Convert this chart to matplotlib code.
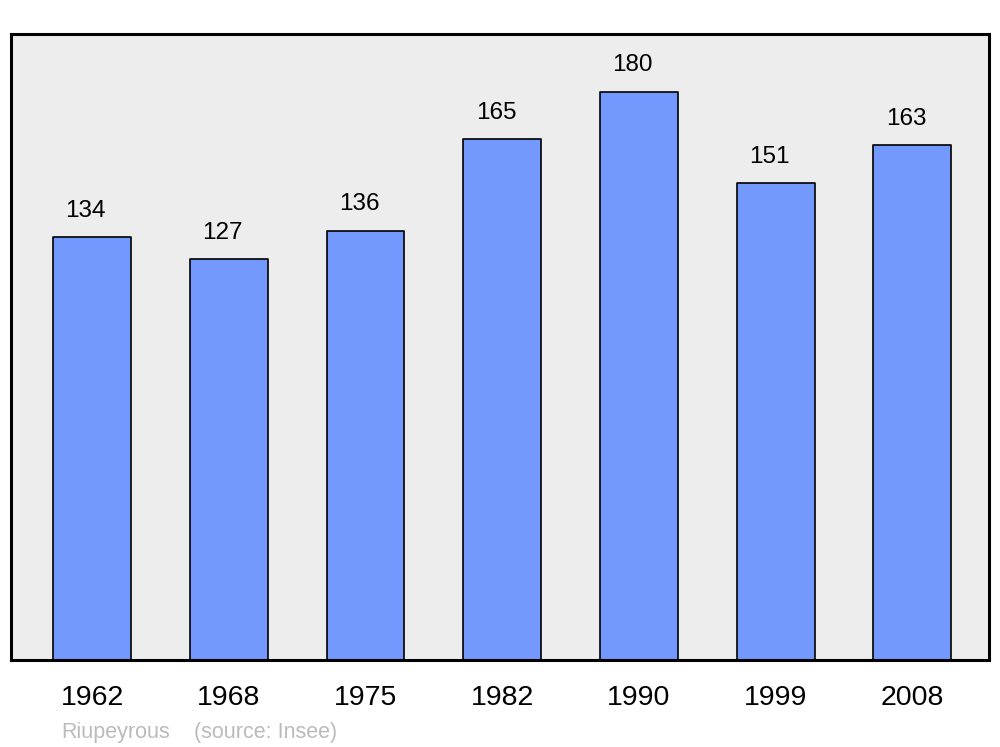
import matplotlib.pyplot as plt
import numpy as np

plt.rcParams['font.family'] = ['Liberation Sans', 'DejaVu Sans']

years = ['1962', '1968', '1975', '1982', '1990', '1999', '2008']
population = [134, 127, 136, 165, 180, 151, 163]

fig = plt.figure(figsize=(10, 7.47), dpi=100)
ax = fig.add_axes([0.011, 0.1165, 0.978, 0.838])
ax.set_facecolor('#ededed')

x = np.arange(len(years))
bars = ax.bar(x, population, width=0.57, color='#7399ff', edgecolor='black',
              linewidth=1.2, zorder=2)
for b in bars:
    b.set_joinstyle('round')

for xi, v in zip(x, population):
    ax.annotate(str(v), (xi, v), xytext=(-4.5, 19), textcoords='offset points',
                ha='center', va='center', fontsize=17.5)

ax.set_xlim(-0.593, 6.56)
ax.set_ylim(0, 198.3)
ax.set_xticks(x)
ax.set_xticklabels(years, fontsize=20.5)
ax.tick_params(axis='x', length=0, pad=18)
ax.set_yticks([])
for s in ax.spines.values():
    s.set_linewidth(2.2)
    s.set_joinstyle('round')

fig.text(0.061, 0.019, 'Riupeyrous', color='#bbbbbb', fontsize=15.5, va='center')
fig.text(0.194, 0.019, '(source: Insee)', color='#bbbbbb', fontsize=15.5, va='center')

fig.savefig('out.png', dpi=100)
